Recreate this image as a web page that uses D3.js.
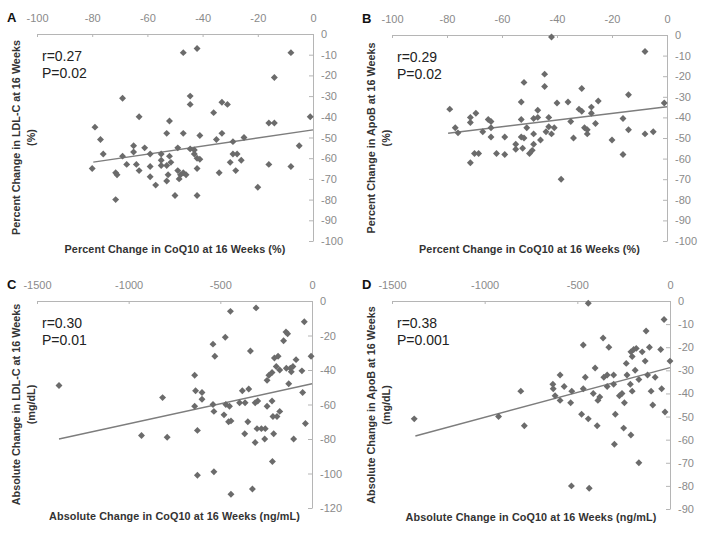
<!DOCTYPE html>
<html><head><meta charset="utf-8">
<script src="https://cdn.jsdelivr.net/npm/d3@7"></script>
<style>
html,body{margin:0;padding:0;background:#fff;}
svg{display:block;font-family:"Liberation Sans",Arial,sans-serif;}
</style></head>
<body>
<svg id="chart" width="710" height="536"></svg>
<script>
// ---- Data ----
const panelLetters = ["A","B","C","D"];
const statR = ["r=0.27","r=0.29","r=0.30","r=0.38"];
const statP = ["P=0.02","P=0.02","P=0.01","P=0.001"];
const xTitles = ["Percent Change in CoQ10 at 16 Weeks (%)","Percent Change in CoQ10 at 16 Weeks (%)",
  "Absolute Change in CoQ10 at 16 Weeks (ng/mL)","Absolute Change in CoQ10 at 16 Weeks (ng/mL)"];
const yTitles1 = ["Percent Change in LDL-C at 16 Weeks","Percent Change in ApoB at 16 Weeks",
  "Absolute Change in LDL-C at 16 Weeks","Absolute Change in ApoB at 16 Weeks"];
const yTitles2 = ["(%)","(%)","(mg/dL)","(mg/dL)"];
const xTicksPct = [-100,-80,-60,-40,-20,0];
const xTicksAbs = [-1500,-1000,-500,0];
const yTicksA = [0,-10,-20,-30,-40,-50,-60,-70,-80,-90,-100];
const yTicksC = [0,-20,-40,-60,-80,-100,-120];
const yTicksD = [0,-10,-20,-30,-40,-50,-60,-70,-80,-90];

const aX = [-47,-42,-8,-14,-69,-44.5,-44.5,-33,-31,-36,-63,-1,-79,-52,-16,-14,-77,-53,-47,-41,-33,-25,-35,-29,-5,-76,-69,-65,-65,-61,-59,-67.5,-64,-63,-80,-71.5,-71,-71.5,-59,-59,-57,-55,-55,-55,-52,-51.5,-53,-52.5,-53,-50,-49,-49,-48,-47,-48.5,-46,-44.5,-43,-43,-42,-41,-42,-42,-34,-30,-29,-27.5,-26,-28,-20,-16,-8];
const aY = [-9,-7,-9,-21,-31,-30,-34,-33,-34,-38,-40,-40,-45,-42,-43,-43,-51,-48,-48,-49,-48,-50,-51,-52,-54,-58,-59,-54,-57,-55,-58,-63,-63,-66,-65,-67,-68,-80,-64,-69,-73,-58,-61,-63.5,-59,-62,-63.5,-68,-71,-78,-55,-66,-68,-67,-70,-68,-55.5,-56,-58,-60,-60.5,-65,-78,-67,-62,-58,-58,-61,-66,-74,-63,-64];

const bX = [-42,-8,-44.5,-52,-44.5,-31,-14,-53,-25,-1,-40,-36,-79,-69.5,-47,-32,-31,-27.5,-27.5,-71.5,-71.5,-65,-64,-64,-53,-48.5,-47,-43,-43,-41,-51,-77,-76,-67,-35,-26,-30,-29,-29,-44,-42,-48.5,-46,-53,-52,-64,-59,-34,-14,-8,-5,-20,-16,-55,-55,-52.5,-48.5,-49,-50,-70,-68.5,-62,-59,-71.5,-16,-38.5];
const bY = [-1,-8,-19,-23,-25,-26,-29,-32.5,-32,-33,-33,-32.5,-36,-38,-36.5,-36,-37,-35,-38,-40,-42.5,-41,-42,-45,-41,-40.5,-40,-40,-44.5,-45,-45,-45,-47.5,-47,-42,-43,-45,-46,-48,-47,-48,-48,-51,-49.5,-50,-49.5,-49.5,-50,-46,-48,-47,-51,-40.5,-53,-55.5,-55,-53,-56,-57.5,-57.5,-57.5,-57.5,-58,-62,-58,-70];

const cX = [-1380,-930,-815,-790,-640,-635,-640,-625,-600,-600,-625,-535,-540,-530,-540,-535,-445,-473,-470,-450,-480,-455,-442,-442,-305,-336,-380,-345,-395,-365,-310,-296,-350,-367,-310,-300,-276,-255,-258,-325,-245,-218,-245,-235,-218,-205,-185,-195,-176,-155,-142,-133,-140,-118,-113,-104,-87,-127,-55,-42,-5,-51,-36,-100,-213,-191,-176,-209,-216];
const cY = [-49,-78,-56,-79,-43,-52,-61,-75,-53,-57,-101,-99,-25,-32,-60,-64,-6,-21,-60,-61,-66,-70,-69.5,-112,-4,-29,-52,-51,-59,-59,-59,-58,-70,-77,-82,-74,-74,-74,-80,-109,-61,-58,-46,-43,-41.5,-33,-32,-38,-40,-23,-18,-19,-39,-39,-41,-38,-34,-48,-40.5,-12,-32,-53,-71,-80,-67,-67,-64,-77,-93];

const dX = [-1380,-925,-805,-786,-593,-632,-630,-620,-593,-571,-530,-536,-532,-468,-441,-457,-468,-477,-441,-436,-404,-414,-389,-379,-393,-361,-357,-339,-330,-339,-304,-304,-295,-300,-273,-259,-246,-250,-236,-232,-214,-204,-211,-211,-204,-196,-182,-188,-168,-168,-150,-129,-134,-121,-111,-102,-93,-80,-50,-45,-32,-27,0];
const dY = [-51,-50,-39,-54,-32,-36,-38,-41,-43,-37,-39,-44,-80,-19,-1,-33,-38,-49,-51,-81,-29,-40,-43,-41.5,-54,-16,-33,-32,-20,-37,-32,-36,-49,-62,-41,-40,-44,-55,-27,-32,-36,-39,-58,-22,-24,-21,-20.5,-30,-34,-70,-22,-13,-26,-32,-20,-39,-45,-33,-21,-38,-8,-48,-26];

// regression lines: start x, start y, end x (=0), end y
const trendX0 = [-79.6,-79.6,-1380,-1374];
const trendY0 = [-61.9,-47.7,-80,-58.4];
const trendX1 = [0,0,0,0];
const trendY1 = [-46.3,-34.8,-48,-28.8];

// ---- Layout ----
const panels = [
  {xs:aX, ys:aY, xDom:[-100,0], xR:[37,313], yDom:[0,-100], yR:[34,241], xT:xTicksPct, yT:yTicksA, ox:0},
  {xs:bX, ys:bY, xDom:[-100,0], xR:[392,667], yDom:[0,-100], yR:[35,241], xT:xTicksPct, yT:yTicksA, ox:355},
  {xs:cX, ys:cY, xDom:[-1500,0], xR:[37,312], yDom:[0,-120], yR:[301,508], xT:xTicksAbs, yT:yTicksC, ox:0},
  {xs:dX, ys:dY, xDom:[-1500,0], xR:[392,670], yDom:[0,-90], yR:[301,509], xT:xTicksAbs, yT:yTicksD, ox:355}
];

const svg = d3.select("#chart");
const axisCol = "#b5b5b5", tickTextCol = "#8a8a8a", markCol = "#6b6b6b";

panels.forEach((p, i) => {
  const x = d3.scaleLinear().domain(p.xDom).range(p.xR);
  const y = d3.scaleLinear().domain(p.yDom).range(p.yR);
  const g = svg.append("g");

  const gx = g.append("g").attr("transform", `translate(0,${p.yR[0]})`)
    .call(d3.axisTop(x).tickValues(p.xT).tickSizeInner(-3).tickSizeOuter(0).tickPadding(12).tickFormat(d3.format("d")));
  const gy = g.append("g").attr("transform", `translate(${p.xR[1]},0)`)
    .call(d3.axisRight(y).tickValues(p.yT).tickSizeInner(-4).tickSizeOuter(0).tickPadding(8).tickFormat(d3.format("d")));
  [gx, gy].forEach(ax => {
    ax.select(".domain").attr("stroke", axisCol).attr("stroke-width", 1);
    ax.selectAll(".tick line").attr("stroke", axisCol);
    ax.selectAll(".tick text").attr("fill", tickTextCol)
      .style("font-family", '"Liberation Sans", Arial, sans-serif').style("font-size", "11px");
  });
  gy.selectAll(".tick text").text(d => String(d));
  gx.selectAll(".tick text").text(d => String(d));

  g.append("line")
    .attr("x1", x(trendX0[i])).attr("y1", y(trendY0[i]))
    .attr("x2", x(trendX1[i])).attr("y2", y(trendY1[i]))
    .attr("stroke", "#7d7d7d").attr("stroke-width", 1.4);

  const sym = d3.symbol().type(d3.symbolSquare).size(24);
  g.selectAll("path.pt").data(p.xs.map((v, k) => [v, p.ys[k]])).join("path")
    .attr("class", "pt")
    .attr("d", sym)
    .attr("transform", d => `translate(${x(d[0])},${y(d[1])}) rotate(45)`)
    .attr("fill", markCol);

  g.append("text").attr("x", p.ox + 7).attr("y", p.yR[0] - 12)
    .attr("font-size", 13).attr("font-weight", "bold").attr("fill", "#111")
    .text(panelLetters[i]);

  g.append("text").attr("x", p.xR[0] + 5).attr("y", p.yR[0] + 27)
    .attr("font-size", 14).attr("fill", "#222").text(statR[i]);
  g.append("text").attr("x", p.xR[0] + 5).attr("y", p.yR[0] + 44)
    .attr("font-size", 14).attr("fill", "#222").text(statP[i]);

  g.append("text").attr("x", (p.xR[0] + p.xR[1]) / 2).attr("y", p.yR[1] + 12)
    .attr("text-anchor", "middle").attr("font-size", 10.8).attr("font-weight", "bold").attr("fill", "#333")
    .attr("letter-spacing", 0.1)
    .text(xTitles[i]);

  const cy = (p.yR[0] + p.yR[1]) / 2;
  g.append("text").attr("transform", `translate(${p.ox + 20},${cy}) rotate(-90)`)
    .attr("text-anchor", "middle").attr("font-size", 10.8).attr("font-weight", "bold").attr("fill", "#333")
    .text(yTitles1[i]);
  g.append("text").attr("transform", `translate(${p.ox + 35},${cy}) rotate(-90)`)
    .attr("text-anchor", "middle").attr("font-size", 10.8).attr("font-weight", "bold").attr("fill", "#333")
    .text(yTitles2[i]);
});
</script>
</body></html>
